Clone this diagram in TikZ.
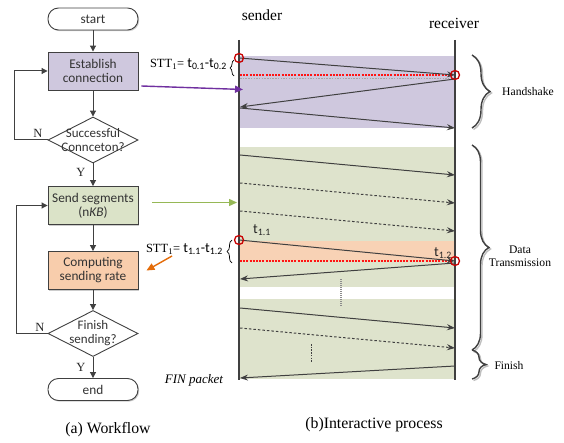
\documentclass[tikz,border=0pt]{standalone}
\usepackage{fontspec}
\setmainfont{Liberation Serif}
\newfontfamily\calfont{Carlito}
\usetikzlibrary{arrows.meta,shapes.geometric,decorations.pathreplacing,shadows}

\definecolor{lineg}{RGB}{64,64,64}
\definecolor{hslav}{RGB}{207,200,222}
\definecolor{dtgreen}{RGB}{222,227,204}
\definecolor{sendgreen}{RGB}{219,227,200}
\definecolor{peach}{RGB}{248,210,181}
\definecolor{comppeach}{RGB}{248,205,172}
\definecolor{ringred}{RGB}{200,0,0}
\definecolor{purp}{RGB}{112,48,160}
\definecolor{olivegreen}{RGB}{150,184,86}
\definecolor{orng}{RGB}{228,108,10}
\definecolor{dotred}{RGB}{255,20,20}

\tikzset{
  flowbox/.style={draw=lineg, line width=0.9pt, minimum width=90pt, minimum height=38pt,
    align=center, inner sep=1pt, text=black!80,
    font=\calfont\fontsize{13.3}{14}\selectfont,
    drop shadow={shadow xshift=1.2pt, shadow yshift=-1.2pt, fill=black!40}},
  term/.style={flowbox, rounded corners=10.5pt, minimum height=22pt, fill=white},
  dia/.style={diamond, draw=lineg, fill=white, line width=0.9pt,
    minimum width=90pt, minimum height=46pt, inner sep=0pt},
  diatext/.style={align=center, text=black!80, font=\calfont\fontsize{13}{14}\selectfont},
  flow/.style={draw=lineg, line width=1pt, -{Triangle[length=6pt,width=6pt]}},
  yn/.style={font=\fontsize{12.5}{13}\selectfont, text=black!85},
  lifeline/.style={draw=lineg, line width=1.5pt},
  msg/.style={draw=lineg, line width=1pt, -{Stealth[length=8pt,width=6pt]}},
  msgdash/.style={msg, dash pattern=on 2.5pt off 2pt},
  reddot/.style={draw=dotred, line width=1.3pt, dash pattern=on 2pt off 1.2pt},
  greydot/.style={draw=black!35, line width=1pt, dash pattern=on 1.5pt off 1.2pt},
  ring/.style={circle, draw=ringred, line width=1.3pt, minimum size=9pt, inner sep=0pt},
  hint/.style={line width=1.4pt, -{Triangle[length=8pt,width=7pt]}},
  bigbrace/.style={decorate, decoration={brace, amplitude=#1}, draw=lineg, line width=1.4pt},
  braceshade/.style={decorate, decoration={brace, amplitude=#1}, draw=black!25, line width=1.4pt},
  smallbrace/.style={decorate, decoration={brace, amplitude=#1}, draw=black, line width=0.7pt},
  phase/.style={font=\fontsize{11.6}{13}\selectfont, align=center},
  stt/.style={font=\fontsize{12.5}{14}\selectfont, anchor=east, inner sep=0pt},
  tlabel/.style={font=\calfont\fontsize{14}{15}\selectfont, text=black!85, inner sep=0pt},
  actor/.style={font=\fontsize{15.5}{17}\selectfont},
  caption/.style={font=\fontsize{15.8}{17}\selectfont}
}

\begin{document}
\begin{tikzpicture}[x=1pt,y=1pt]
\useasboundingbox (0,0) rectangle (564,-443);

% ---------------- phase backgrounds ----------------
\fill[hslav]   (240,-56)  rectangle (455,-128);
\fill[dtgreen] (240,-147) rectangle (455,-287);
\fill[dtgreen] (240,-299) rectangle (455,-379);
\fill[peach]   (240,-241) rectangle (455,-261);

% ---------------- workflow ----------------
\node[term] (start) at (93,-19) {start};
\node[flowbox, fill=hslav] (estab) at (93,-71) {Establish\\connection};
\node[dia] (conn) at (93,-140) {};
\node[diatext] (conntxt) at (conn) {Successful\\Connceton?};
\node[flowbox, fill=sendgreen] (send) at (93,-205.5) {Send segments\\(n\textit{KB})};
\node[flowbox, fill=comppeach] (comp) at (93,-270.5) {Computing\\sending rate};
\node[dia] (fin) at (93,-333.5) {};
\node[diatext] (fintxt) at (fin) {Finish\\sending?};
\node[term] (end) at (93,-389.5) {end};

\draw[flow] (start) -- (estab);
\draw[flow] (estab) -- (conn);
\draw[flow] (conn) -- (send);
\draw[flow] (send) -- (comp);
\draw[flow] (comp) -- (fin);
\draw[flow] (fin) -- (end);
\draw[flow] (conn.west) -- ++(-33,0) |- (estab.west);
\draw[flow] (fin.west) -- ++(-31,0) |- (send.west);

\node[yn] (n1) at (38,-133) {N};
\node[yn] (y1) at (81,-172) {Y};
\node[yn] (n2) at (40,-327) {N};
\node[yn] (y2) at (81,-367) {Y};

\node[caption] (capa) at (108,-430) {(a) Workflow};

% ---------------- lifelines ----------------
\coordinate (sTop) at (239,-40);
\coordinate (sBot) at (239,-380);
\coordinate (rTop) at (455,-40);
\coordinate (rBot) at (455,-380);
\draw[lifeline] (sTop) -- (sBot);
\draw[lifeline] (rTop) -- (rBot);
\node[actor] (sender) at (262,-15) {sender};
\node[actor] (receiver) at (454,-23) {receiver};

% ---------------- handshake ----------------
\coordinate (h1s) at (239,-58);
\coordinate (h1r) at (455,-75);
\coordinate (h2r) at (455,-79);
\coordinate (h2s) at (240,-107);
\coordinate (h3s) at (240,-108);
\coordinate (h3r) at (455,-128);
\coordinate (hRedA) at (240,-75);
\coordinate (hRedB) at (451,-75);
\coordinate (hGreyA) at (240,-79);
\coordinate (hGreyB) at (451,-79);
\draw[greydot] (hGreyA) -- (hGreyB);
\draw[reddot] (hRedA) -- (hRedB);
\draw[msg] (h1s) -- (h1r);
\draw[msg] (h2r) -- (h2s);
\draw[msg] (h3s) -- (h3r);
\node[ring] (ringA) at (h1s) {};
\node[ring] (ringB) at (h1r) {};

\node[stt] (stt0) at (227,-64) {STT\textsubscript{1}= {\calfont\fontsize{14}{15}\selectfont t\textsubscript{0.1}-t\textsubscript{0.2}}};
\draw[smallbrace=4pt] (234,-76) -- (234,-60);

% ---------------- data transmission ----------------
\coordinate (d1s) at (240,-155);
\coordinate (d1r) at (455,-175);
\coordinate (d2s) at (240,-183);
\coordinate (d2r) at (455,-203);
\coordinate (d3s) at (240,-211);
\coordinate (d3r) at (455,-231);
\coordinate (d4s) at (239,-240);
\coordinate (d4r) at (455,-261);
\coordinate (d5r) at (455,-263);
\coordinate (d5s) at (240,-279);
\coordinate (dRedA) at (240,-261);
\coordinate (dRedB) at (451,-261);
\draw[msg] (d1s) -- (d1r);
\draw[msgdash] (d2s) -- (d2r);
\draw[msgdash] (d3s) -- (d3r);
\draw[reddot] (dRedA) -- (dRedB);
\draw[msg] (d4s) -- (d4r);
\draw[msg] (d5r) -- (d5s);
\node[ring] (ringC) at (d4s) {};
\node[ring] (ringD) at (d4r) {};
\node[tlabel] (t11) at (262,-230) {t\textsubscript{1.1}};
\node[tlabel] (t12) at (443,-253) {t\textsubscript{1.2}};

\node[stt] (stt1) at (223,-249) {STT\textsubscript{1}= {\calfont\fontsize{14}{15}\selectfont t\textsubscript{1.1}-t\textsubscript{1.2}}};
\draw[smallbrace=5pt] (232,-263) -- (232,-240);

% omitted rounds
\coordinate (gapA) at (341,-279);
\coordinate (gapB) at (341,-307);
\draw[draw=black!45, line width=1.6pt, dash pattern=on 1pt off 1pt] (gapA) -- (gapB);

\coordinate (e1s) at (240,-308);
\coordinate (e1r) at (455,-328);
\coordinate (e2s) at (240,-328);
\coordinate (e2r) at (455,-348);
\draw[msg] (e1s) -- (e1r);
\draw[msgdash] (e2s) -- (e2r);
\coordinate (gapC) at (311,-344);
\coordinate (gapD) at (311,-362);
\draw[draw=lineg, line width=0.8pt, dash pattern=on 1.5pt off 1.2pt] (gapC) -- (gapD);

% ---------------- finish ----------------
\coordinate (finr) at (455,-366);
\coordinate (fins) at (240,-378);
\draw[msg] (finr) -- (fins);
\node[font=\itshape\fontsize{13}{14}\selectfont] (finlbl) at (194,-380) {FIN packet};

\node[caption] (capb) at (374,-425) {(b)Interactive process};

% ---------------- cross references ----------------
\coordinate (pIn) at (243,-89.5);
\draw[hint, draw=purp, fill=purp] ([xshift=3pt, yshift=-15pt]estab.east) -- (pIn);
\coordinate (gIn) at (237,-202.5);
\draw[hint, draw=olivegreen, fill=olivegreen] ([xshift=14pt, yshift=3pt]send.east) -- (gIn);
\coordinate (oFrom) at (172,-256);
\draw[hint, draw=orng, fill=orng] (oFrom) -- ([xshift=8pt, yshift=0pt]comp.east);

% ---------------- phase braces ----------------
\draw[braceshade=18pt] (473.5,-56.5) -- (473.5,-129.5);
\draw[bigbrace=18pt] (472,-55) -- (472,-128);
\draw[braceshade=17pt] (473.5,-146.5) -- (473.5,-351.5);
\draw[bigbrace=17pt] (472,-145) -- (472,-350);
\draw[braceshade=14pt] (473.5,-351.5) -- (473.5,-380.5);
\draw[bigbrace=14pt] (472,-350) -- (472,-379);

\node[phase] (hs) at (528,-92) {Handshake};
\node[phase] (dt) at (520,-256) {Data\\Transmission};
\node[phase] (fi) at (509,-366) {Finish};
\end{tikzpicture}
\end{document}
